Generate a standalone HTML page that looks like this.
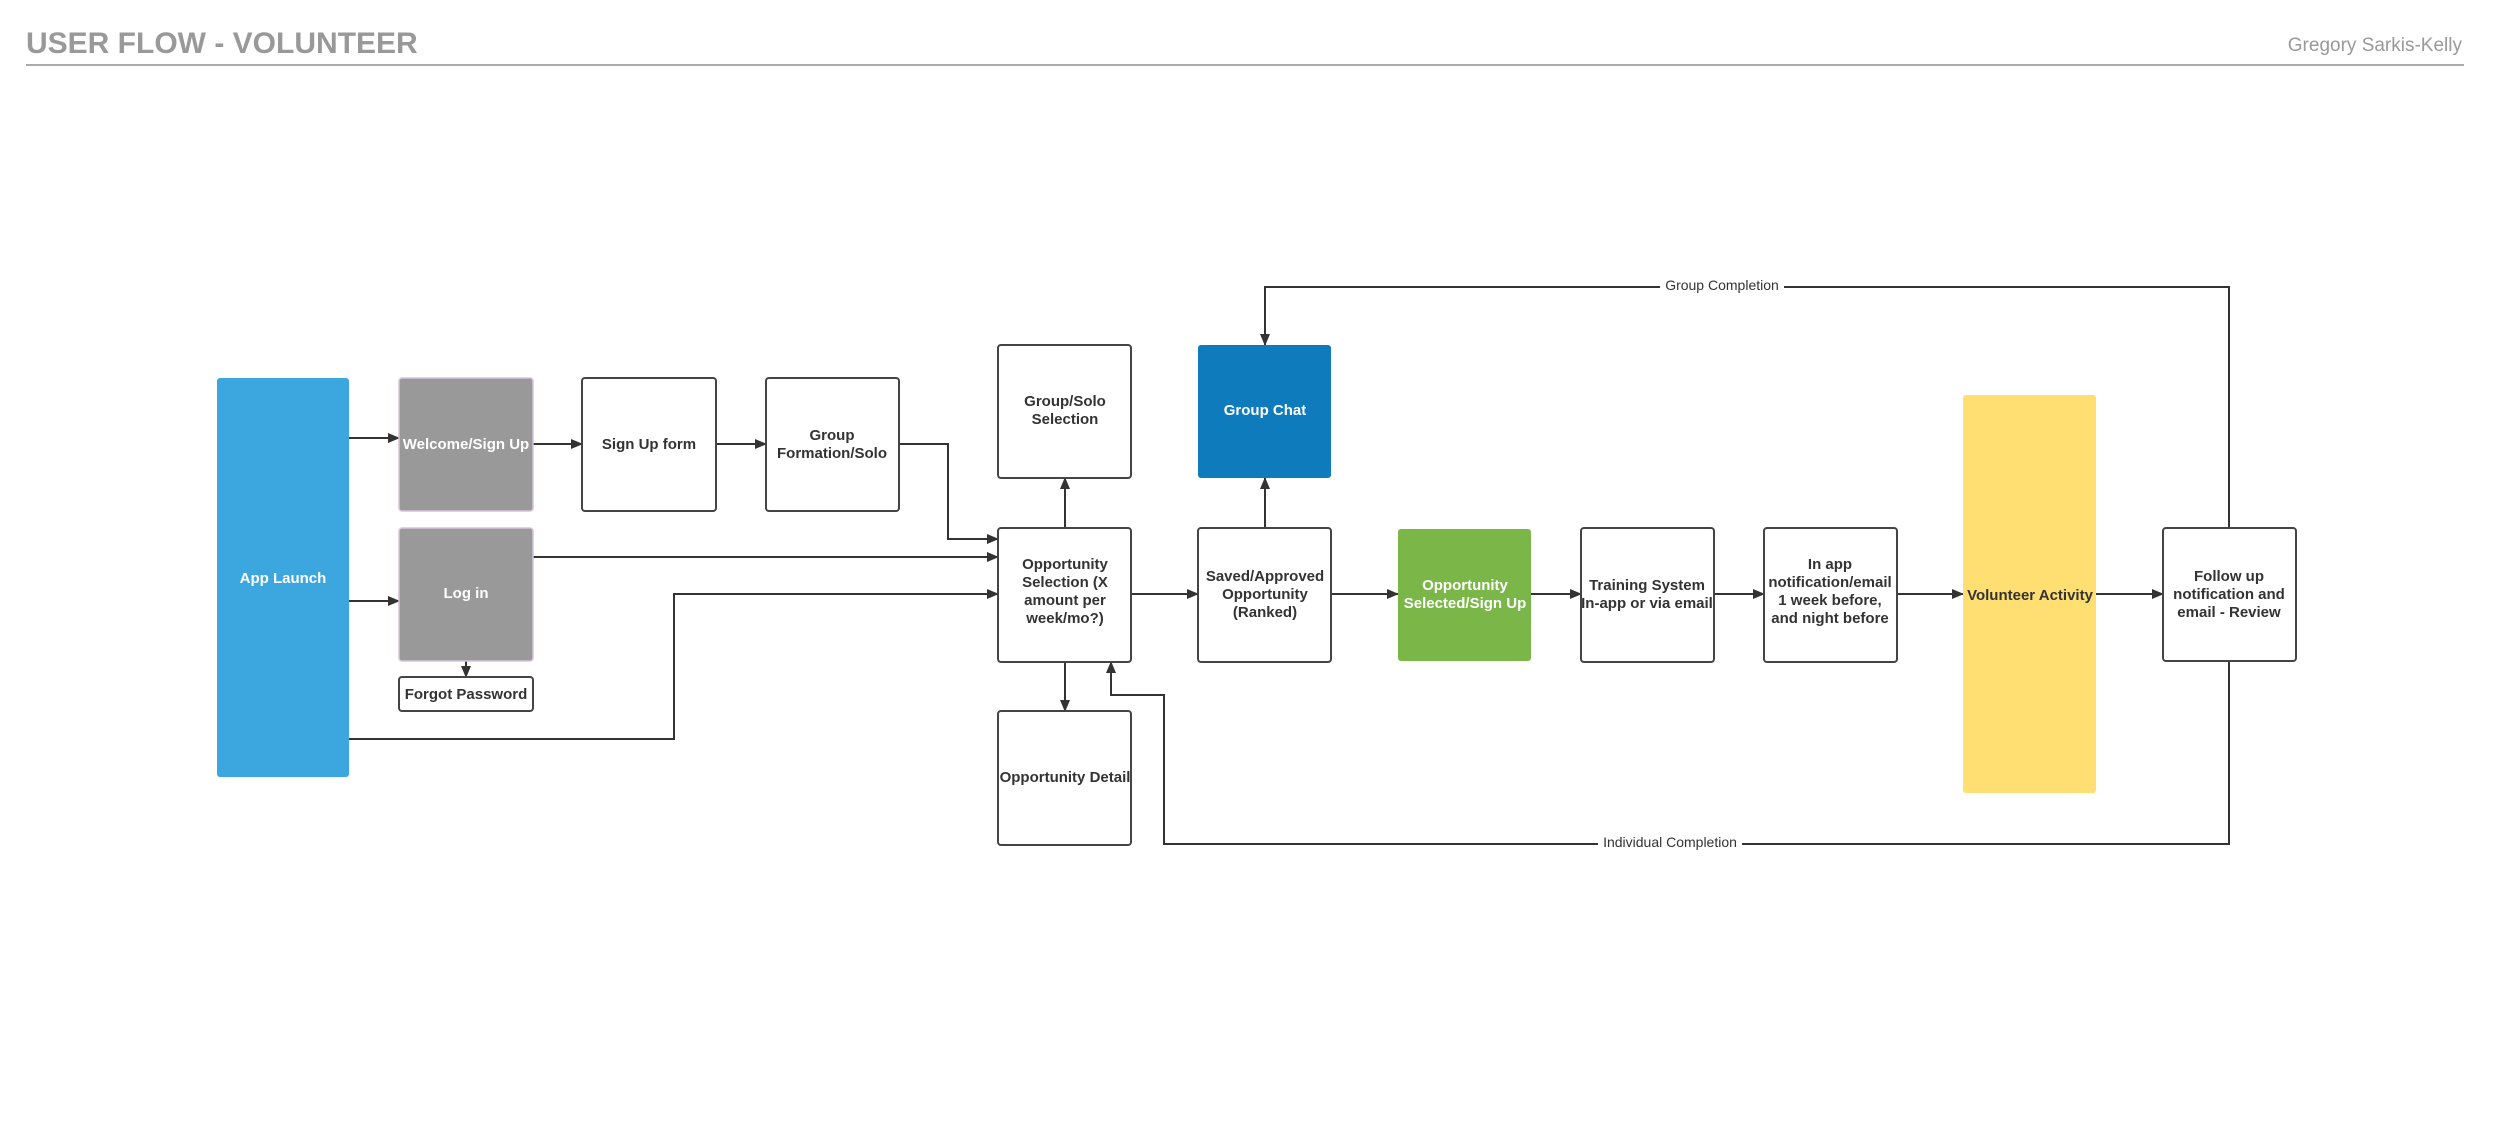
<!DOCTYPE html>
<html><head><meta charset="utf-8"><style>
html,body{margin:0;padding:0;background:#fff}
svg{display:block}
text{font-family:"Liberation Sans",Arial,sans-serif}
.b{font-size:15px;font-weight:bold;fill:#333;text-anchor:middle}
.w{font-size:15px;font-weight:bold;fill:#fff;text-anchor:middle}
.l{font-size:14px;fill:#333;text-anchor:middle}
.box{fill:#fff;stroke:#444;stroke-width:2}
.ln{fill:none;stroke:#333;stroke-width:2}
</style></head><body>
<svg width="2500" height="1131" viewBox="0 0 2500 1131">
<defs><marker id="a" markerWidth="12" markerHeight="10" refX="11" refY="5" orient="auto" markerUnits="userSpaceOnUse"><path d="M0,0 L12,5 L0,10 z" fill="#333"/></marker></defs>
<text x="26" y="53" style="font-size:30px;font-weight:bold;fill:#999">USER FLOW - VOLUNTEER</text>
<text x="2462" y="51" style="font-size:19px;fill:#999;text-anchor:end">Gregory Sarkis-Kelly</text>
<line x1="26" y1="65" x2="2464" y2="65" stroke="#aaa" stroke-width="2"/>

<!-- connectors -->
<path class="ln" marker-end="url(#a)" d="M349,438 H399"/>
<path class="ln" marker-end="url(#a)" d="M349,601 H399"/>
<path class="ln" marker-end="url(#a)" d="M533,444 H582"/>
<path class="ln" marker-end="url(#a)" d="M716,444 H766"/>
<path class="ln" marker-end="url(#a)" d="M899,444 H948 V539 H998"/>
<path class="ln" marker-end="url(#a)" d="M533,557 H998"/>
<path class="ln" marker-end="url(#a)" d="M349,739 H674 V594 H998"/>
<path class="ln" marker-end="url(#a)" d="M466,661 V677"/>
<path class="ln" marker-end="url(#a)" d="M1065,528 V478"/>
<path class="ln" marker-end="url(#a)" d="M1065,662 V711"/>
<path class="ln" marker-end="url(#a)" d="M1131,594 H1198"/>
<path class="ln" marker-end="url(#a)" d="M1265,528 V478"/>
<path class="ln" marker-end="url(#a)" d="M1331,594 H1398"/>
<path class="ln" marker-end="url(#a)" d="M1531,594 H1581"/>
<path class="ln" marker-end="url(#a)" d="M1714,594 H1764"/>
<path class="ln" marker-end="url(#a)" d="M1897,594 H1963"/>
<path class="ln" marker-end="url(#a)" d="M2096,594 H2163"/>
<path class="ln" marker-end="url(#a)" d="M2229,528 V287 H1265 V345"/>
<path class="ln" marker-end="url(#a)" d="M2229,661 V844 H1164 V695 H1111 V662"/>
<rect x="1660" y="277" width="124" height="18" fill="#fff"/>
<text class="l" x="1722" y="290">Group Completion</text>
<rect x="1598" y="834" width="144" height="18" fill="#fff"/>
<text class="l" x="1670" y="847">Individual Completion</text>

<!-- nodes -->
<rect x="217" y="378" width="132" height="399" rx="3" fill="#3ca6de"/>
<text class="w" x="283" y="583">App Launch</text>
<rect x="399" y="378" width="134" height="133" rx="3" fill="#999" stroke="#d9c3d9" stroke-width="1.5"/>
<text class="w" x="466" y="449">Welcome/Sign Up</text>
<rect x="399" y="528" width="134" height="133" rx="3" fill="#999" stroke="#d9c3d9" stroke-width="1.5"/>
<text class="w" x="466" y="598">Log in</text>
<rect class="box" x="399" y="677" width="134" height="34" rx="3"/>
<text class="b" x="466" y="699">Forgot Password</text>
<rect class="box" x="582" y="378" width="134" height="133" rx="3"/>
<text class="b" x="649" y="449">Sign Up form</text>
<rect class="box" x="766" y="378" width="133" height="133" rx="3"/>
<text class="b" x="832" y="440">Group</text>
<text class="b" x="832" y="458">Formation/Solo</text>
<rect class="box" x="998" y="345" width="133" height="133" rx="3"/>
<text class="b" x="1065" y="406">Group/Solo</text>
<text class="b" x="1065" y="424">Selection</text>
<rect x="1198" y="345" width="133" height="133" rx="3" fill="#0e7bbd"/>
<text class="w" x="1265" y="415">Group Chat</text>
<rect class="box" x="998" y="528" width="133" height="134" rx="3"/>
<text class="b" x="1065" y="569">Opportunity</text>
<text class="b" x="1065" y="587">Selection (X</text>
<text class="b" x="1065" y="605">amount per</text>
<text class="b" x="1065" y="623">week/mo?)</text>
<rect class="box" x="998" y="711" width="133" height="134" rx="3"/>
<text class="b" x="1065" y="782">Opportunity Detail</text>
<rect class="box" x="1198" y="528" width="133" height="134" rx="3"/>
<text class="b" x="1265" y="581">Saved/Approved</text>
<text class="b" x="1265" y="599">Opportunity</text>
<text class="b" x="1265" y="617">(Ranked)</text>
<rect x="1398" y="529" width="133" height="132" rx="3" fill="#7ab648"/>
<text class="w" x="1465" y="590">Opportunity</text>
<text class="w" x="1465" y="608">Selected/Sign Up</text>
<rect class="box" x="1581" y="528" width="133" height="134" rx="3"/>
<text class="b" x="1647" y="590">Training System</text>
<text class="b" x="1647" y="608">In-app or via email</text>
<rect class="box" x="1764" y="528" width="133" height="134" rx="3"/>
<text class="b" x="1830" y="569">In app</text>
<text class="b" x="1830" y="587">notification/email</text>
<text class="b" x="1830" y="605">1 week before,</text>
<text class="b" x="1830" y="623">and night before</text>
<rect x="1963" y="395" width="133" height="398" rx="3" fill="#ffdf71"/>
<text class="b" x="2030" y="600">Volunteer Activity</text>
<rect class="box" x="2163" y="528" width="133" height="133" rx="3"/>
<text class="b" x="2229" y="581">Follow up</text>
<text class="b" x="2229" y="599">notification and</text>
<text class="b" x="2229" y="617">email - Review</text>
</svg>
</body></html>
